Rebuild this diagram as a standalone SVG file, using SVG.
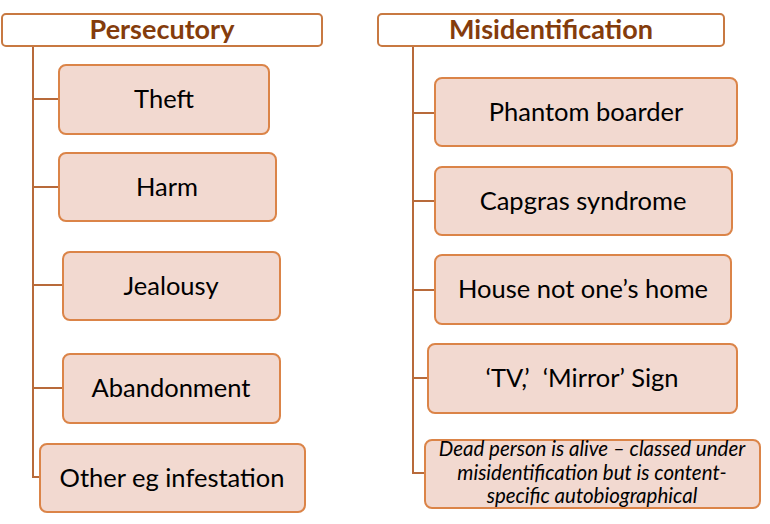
<svg xmlns="http://www.w3.org/2000/svg" width="770" height="524" viewBox="0 0 770 524">
<style>
.hdr{fill:#ffffff;stroke:#C87941;stroke-width:2}
.box{fill:#F2D9D0;stroke:#DB8448;stroke-width:2}
.ht{font-family:Lato,"Liberation Sans",sans-serif;font-weight:bold;font-size:27px;fill:#843C0C;text-anchor:middle}
.t{font-family:Lato,"Liberation Sans",sans-serif;font-size:25.5px;fill:#000;text-anchor:middle}
.it{font-family:Lato,"Liberation Sans",sans-serif;font-style:italic;font-size:20.5px;fill:#000;text-anchor:middle}
.ln{stroke:#B86A3A;stroke-width:2;fill:none}
</style>
<g id="connectors">
<path class="ln" d="M33 46V478M33 99H59M33 187H59M33 285H63M33 388H63M33 477H40"/>
<path class="ln" d="M413 46V474M413 113H435M413 201H435M413 290H435M413 378H428M413 473H425"/>
</g>
<g id="persecutory"><rect class="hdr" x="2" y="14" width="320" height="32" rx="4"/><text class="ht" x="162" y="38.5">Persecutory</text></g>
<g id="theft"><rect class="box" x="59" y="65" width="210" height="69" rx="7"/><text class="t" x="164" y="108">Theft</text></g>
<g id="harm"><rect class="box" x="59" y="153" width="217" height="68" rx="7"/><text class="t" x="167" y="196">Harm</text></g>
<g id="jealousy"><rect class="box" x="63" y="252" width="217" height="68" rx="7"/><text class="t" x="171" y="295">Jealousy</text></g>
<g id="abandonment"><rect class="box" x="63" y="354" width="217" height="69" rx="7"/><text class="t" x="171" y="397">Abandonment</text></g>
<g id="other"><rect class="box" x="40" y="444" width="265" height="68" rx="7"/><text class="t" x="172" y="487">Other eg infestation</text></g>
<g id="misidentification"><rect class="hdr" x="378" y="14" width="346" height="32" rx="4"/><text class="ht" x="551" y="38.5">Misidentification</text></g>
<g id="phantom"><rect class="box" x="435" y="78" width="302" height="68" rx="7"/><text class="t" x="586" y="121">Phantom boarder</text></g>
<g id="capgras"><rect class="box" x="435" y="167" width="297" height="68" rx="7"/><text class="t" x="583" y="210">Capgras syndrome</text></g>
<g id="house"><rect class="box" x="435" y="255" width="296" height="69" rx="7"/><text class="t" x="583" y="298">House not one’s home</text></g>
<g id="tv"><rect class="box" x="428" y="344" width="309" height="69" rx="7"/><text class="t" x="582" y="387">‘TV,’&#160; ‘Mirror’ Sign</text></g>
<g id="dead"><rect class="box" x="425" y="440" width="335" height="68" rx="7"/>
<text class="it" x="592" y="456">Dead person is alive – classed under</text>
<text class="it" x="592" y="480">misidentification but is content-</text>
<text class="it" x="592" y="503">specific autobiographical</text></g>
</svg>
